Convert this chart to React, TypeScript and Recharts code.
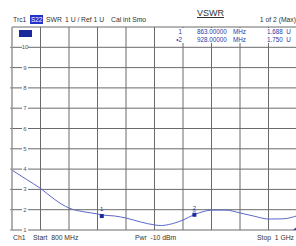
import { LineChart, Line, XAxis, YAxis, CartesianGrid, ReferenceDot } from 'recharts'

// trace: S22 VSWR vs frequency (MHz)
const freqs = [800, 810, 820, 830, 840, 850, 860, 863, 872, 880, 890, 900, 905, 910, 920, 928, 935, 940, 950, 960, 970, 980, 990, 1000]
const vswr = [3.95, 3.5, 3.05, 2.5, 2.08, 1.9, 1.79, 1.74, 1.69, 1.59, 1.4, 1.25, 1.22, 1.27, 1.49, 1.76, 1.92, 1.98, 1.98, 1.84, 1.68, 1.54, 1.55, 1.7]

const markerIds = ['1', '2']
const markerFreqs = [863, 928]
const markerVals = [1.688, 1.75]

const xTicks = [800, 820, 840, 860, 880, 900, 920, 940, 960, 980, 1000]
const yTicks = [1, 2, 3, 4, 5, 6, 7, 8, 9, 10, 11]

const data = freqs.map((f, i) => ({ f, v: vswr[i] }))

const FONT = '"Liberation Sans", Arial, sans-serif'
const MARKER_BLUE = '#1c2c9c'
const TRACE = '#5b67c9'
const TXT = '#333'

function YTick({ x, y, payload }: any) {
  if (payload.value === 11) return <g />
  return (
    <g>
      <line x1={x - 2} y1={y} x2={x} y2={y} stroke="#888" />
      <rect x={x + 10} y={y - 3} width={6} height={6} fill="#fff" />
      <text x={x + 13} y={y} fontSize={6} fill="#555" textAnchor="middle" dominantBaseline="central">
        {payload.value}
      </text>
    </g>
  )
}

const NoTick = () => <g />

function MarkerSquare({ cx, cy, label }: any) {
  return (
    <g>
      <rect x={cx - 2} y={cy - 2} width={4} height={4} fill={MARKER_BLUE} />
      <text x={cx} y={cy - 5} fontSize={6} fill={MARKER_BLUE} textAnchor="middle" textDecoration={label === '2' ? 'underline' : undefined}>
        {label}
      </text>
    </g>
  )
}

function StopTriangle({ cx, cy }: any) {
  return <polygon points={`${cx - 4},${cy} ${cx + 1},${cy - 4} ${cx + 1},${cy}`} fill="#2a40c8" />
}

const small = (left: number, top: number, extra: any = {}) => ({
  position: 'absolute' as const, left, top, fontSize: 6.8, color: TXT, whiteSpace: 'nowrap' as const, lineHeight: '9px', ...extra,
})

export default function App() {
  return (
    <div style={{ position: 'absolute', left: 0, top: 0, width: 296, height: 246, overflow: 'hidden', background: '#fff', fontFamily: FONT }}>
      <LineChart width={300} height={246} data={data} margin={{ top: 27, right: 3, bottom: 0, left: 0 }}>
        <CartesianGrid stroke="#6a6a6a" strokeWidth={1} />
        <XAxis dataKey="f" type="number" domain={[800, 1000]} ticks={xTicks} height={16} tick={<NoTick />} axisLine={false} tickLine={false} interval={0} />
        <YAxis type="number" domain={[1, 11]} ticks={yTicks} width={12} tickSize={0} tickMargin={0} tick={<YTick />} axisLine={{ stroke: '#aaa' }} tickLine={false} interval={0} />
        <Line dataKey="v" type="monotone" stroke={TRACE} strokeWidth={1} dot={false} isAnimationActive={false} />
        {markerIds.map((id, i) => (
          <ReferenceDot key={id} x={markerFreqs[i]} y={markerVals[i]} r={2} shape={(p: any) => <MarkerSquare {...p} label={id} />} />
        ))}
        <ReferenceDot x={1000} y={1} r={2} shape={(p: any) => <StopTriangle {...p} />} />
      </LineChart>

      {/* header */}
      <div style={small(13, 15)}>Trc1</div>
      <div style={small(30, 15, { background: '#2233cc', color: '#fff', padding: '0 1px', fontSize: 6.3 })}>S22</div>
      <div style={small(46, 15)}>SWR</div>
      <div style={small(65, 15)}>1 U /</div>
      <div style={small(81, 15)}>Ref 1 U</div>
      <div style={small(111, 15)}>Cal int Smo</div>
      <div style={{ position: 'absolute', left: 197, top: 8, fontSize: 9, color: TXT, textDecoration: 'underline', lineHeight: '11px' }}>VSWR</div>
      <div style={small(0, 15, { left: undefined, right: 0 })}>1 of 2 (Max)</div>

      {/* trace legend swatch */}
      <div style={{ position: 'absolute', left: 19, top: 30, width: 13, height: 7, background: '#1a2a9a' }} />

      {/* marker table */}
      <div style={{ position: 'absolute', left: 160, top: 28, width: 136, height: 15, background: '#fff', fontSize: 6.3, color: '#2a3aa8', lineHeight: '7.5px' }}>
        {markerIds.map((id, i) => (
          <div key={id} style={{ position: 'relative', height: 7.5, whiteSpace: 'nowrap' }}>
            <span style={{ position: 'absolute', right: 114 }}>{i === 1 ? '\u2022' : ''}{id}</span>
            <span style={{ position: 'absolute', left: 37 }}>{markerFreqs[i].toFixed(5)}</span>
            <span style={{ position: 'absolute', left: 73 }}>MHz</span>
            <span style={{ position: 'absolute', left: 107 }}>{markerVals[i].toFixed(3)}&nbsp; U</span>
          </div>
        ))}
      </div>

      {/* footer */}
      <div style={small(13, 233)}>Ch1</div>
      <div style={small(33, 233)}>Start&nbsp; 800 MHz</div>
      <div style={small(135, 233)}>Pwr&nbsp; -10 dBm</div>
      <div style={small(0, 233, { left: undefined, right: 2 })}>Stop&nbsp; 1 GHz</div>
    </div>
  )
}
